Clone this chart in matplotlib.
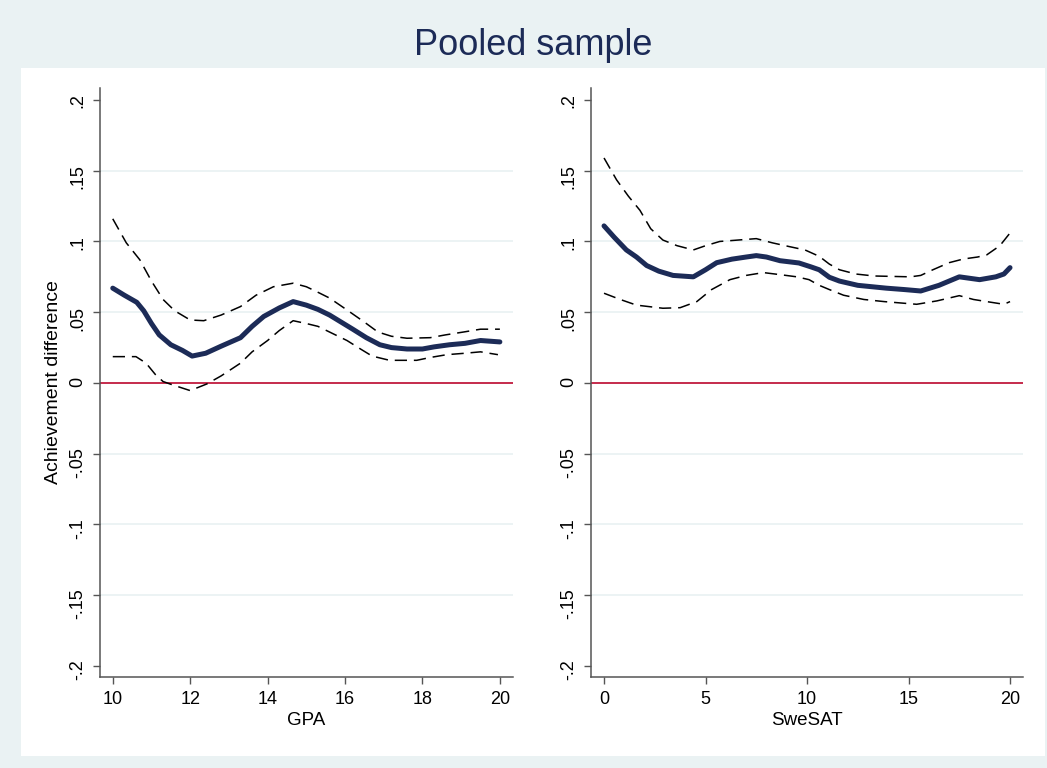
import matplotlib
matplotlib.use("Agg")
import matplotlib.pyplot as plt
from matplotlib.patches import Rectangle

plt.rcParams["font.family"] = ["Liberation Sans", "DejaVu Sans"]

# -----------------------------
# Data
# -----------------------------
gpa_x = [10.0, 10.3, 10.62, 10.8, 11.0, 11.2, 11.5, 11.8, 12.05, 12.4, 12.8, 13.3, 13.6,
         13.9, 14.3, 14.66, 15.0, 15.3, 15.6, 15.9, 16.2, 16.55, 16.9, 17.2, 17.6, 18.0,
         18.3, 18.7, 19.1, 19.5, 20.0]
gpa_est = [0.067, 0.062, 0.057, 0.051, 0.042, 0.034, 0.027, 0.023, 0.019, 0.021, 0.026,
           0.032, 0.040, 0.047, 0.053, 0.0575, 0.055, 0.052, 0.048, 0.043, 0.038, 0.032,
           0.027, 0.025, 0.024, 0.024, 0.0255, 0.027, 0.028, 0.030, 0.029]

gpa_hi_x = [10.0, 10.35, 10.7, 11.0, 11.3, 11.6, 12.0, 12.35, 12.8, 13.3, 13.7, 14.15, 14.66,
            15.0, 15.27, 15.6, 16.05, 16.5, 16.85, 17.2, 17.6, 18.2, 18.6, 19.06, 19.5, 20.0]
gpa_hi = [0.116, 0.099, 0.087, 0.072, 0.059, 0.051, 0.0445, 0.044, 0.048, 0.054, 0.062,
          0.068, 0.0705, 0.068, 0.0645, 0.060, 0.0516, 0.043, 0.036, 0.033, 0.0316, 0.032,
          0.034, 0.036, 0.038, 0.038]

gpa_lo_x = [10.0, 10.6, 10.86, 11.1, 11.3, 11.55, 12.0, 12.43, 12.8, 13.3, 13.6, 14.0, 14.3,
            14.66, 15.0, 15.3, 15.6, 16.05, 16.4, 16.7, 17.15, 17.85, 18.2, 18.63, 19.1, 19.5,
            19.95]
gpa_lo = [0.0186, 0.0186, 0.014, 0.006, 0.001, -0.0014, -0.0054, -0.0007, 0.005, 0.014,
          0.022, 0.030, 0.037, 0.044, 0.042, 0.040, 0.036, 0.030, 0.024, 0.019, 0.016, 0.016,
          0.018, 0.020, 0.021, 0.022, 0.020]

sat_x = [0.0, 0.5, 1.1, 1.6, 2.1, 2.7, 3.4, 4.4, 5.0, 5.55, 6.3, 7.0, 7.5, 8.0, 8.67, 9.6,
         10.2, 10.6, 11.1, 11.6, 12.5, 13.9, 14.8, 15.6, 16.5, 17.5, 18.5, 19.3, 19.7, 20.0]
sat_est = [0.111, 0.103, 0.094, 0.089, 0.083, 0.079, 0.076, 0.075, 0.080, 0.085, 0.0875,
           0.089, 0.090, 0.089, 0.0864, 0.0848, 0.082, 0.080, 0.0747, 0.072, 0.069, 0.067,
           0.066, 0.065, 0.069, 0.075, 0.073, 0.075, 0.077, 0.0815]

sat_hi_x = [0.0, 0.62, 1.2, 1.77, 2.3, 2.9, 3.6, 4.4, 5.0, 5.7, 6.6, 7.5, 8.3, 9.15, 9.9,
            10.6, 11.1, 11.6, 12.4, 13.3, 15.1, 15.6, 16.2, 17.0, 17.7, 18.4, 18.85, 19.5,
            20.0]
sat_hi = [0.159, 0.1435, 0.132, 0.122, 0.109, 0.101, 0.097, 0.094, 0.097, 0.100, 0.101,
          0.102, 0.099, 0.0963, 0.094, 0.0895, 0.084, 0.080, 0.077, 0.0756, 0.075, 0.076,
          0.080, 0.085, 0.0876, 0.089, 0.0905, 0.097, 0.106]

sat_lo_x = [0.0, 0.8, 1.6, 2.9, 3.75, 4.57, 5.3, 6.2, 7.0, 7.85, 8.7, 9.5, 10.1, 10.6, 11.1,
            11.8, 12.8, 13.8, 15.4, 16.4, 17.5, 18.2, 18.85, 19.7, 20.0]
sat_lo = [0.0634, 0.059, 0.055, 0.0528, 0.0532, 0.0575, 0.066, 0.073, 0.076, 0.078, 0.0765,
          0.075, 0.073, 0.069, 0.066, 0.062, 0.059, 0.0575, 0.0556, 0.058, 0.0617, 0.059,
          0.0575, 0.0556, 0.0575]

y_ticks = [-0.2, -0.15, -0.1, -0.05, 0, 0.05, 0.1, 0.15, 0.2]
y_tick_labels = ["-.2", "-.15", "-.1", "-.05", "0", ".05", ".1", ".15", ".2"]
gpa_ticks = [10, 12, 14, 16, 18, 20]
sat_ticks = [0, 5, 10, 15, 20]

# -----------------------------
# Styling
# -----------------------------
bg = "#EAF2F3"
navy = "#1C2B57"
red = "#C01A3E"
axis_grey = "#555555"

fig = plt.figure(figsize=(10.47, 7.68), dpi=100, facecolor=bg)
fig.patches.append(Rectangle((0.0198, 0.0156), 0.9783, 0.8958, transform=fig.transFigure,
                             facecolor="white", edgecolor="none", zorder=-5))

fig.text(0.509, 0.928, "Pooled sample", ha="center", va="baseline",
         fontsize=26, color=navy)

ax1 = fig.add_axes([0.0955, 0.1185, 0.3945, 0.767])
ax2 = fig.add_axes([0.5645, 0.1185, 0.4126, 0.767])

panels = [
    (ax1, gpa_x, gpa_est, gpa_hi_x, gpa_hi, gpa_lo_x, gpa_lo, gpa_ticks, (9.67, 20.34), "GPA"),
    (ax2, sat_x, sat_est, sat_hi_x, sat_hi, sat_lo_x, sat_lo, sat_ticks, (-0.64, 20.64), "SweSAT"),
]

for ax, x, est, hx, hi, lx, lo, xt, xl, xlabel in panels:
    ax.set_zorder(2)
    ax.set_facecolor("none")
    for yv in y_ticks:
        if yv != 0 and abs(yv) < 0.19:
            ax.axhline(yv, color=bg, lw=1.3, zorder=1)
    ax.axhline(0, color=red, lw=1.3, zorder=2)
    ax.plot(hx, hi, color="black", lw=1.1, dashes=(8, 4.5), zorder=3)
    ax.plot(lx, lo, color="black", lw=1.1, dashes=(8, 4.5), zorder=3)
    ax.plot(x, est, color=navy, lw=3.6, solid_capstyle="round", zorder=4)

    ax.set_xlim(*xl)
    ax.set_ylim(-0.2078, 0.2085)
    ax.set_xticks(xt)
    ax.set_yticks(y_ticks)
    ax.set_yticklabels(y_tick_labels)
    ax.tick_params(axis="y", labelrotation=90)
    ax.tick_params(direction="out", length=5, width=1, color=axis_grey,
                   labelsize=13, pad=5)
    for s in ["top", "right"]:
        ax.spines[s].set_visible(False)
    for s in ["left", "bottom"]:
        ax.spines[s].set_color(axis_grey)
        ax.spines[s].set_linewidth(1.1)
    ax.set_xlabel(xlabel, fontsize=13.5, labelpad=3)

ax1.set_ylabel("Achievement difference", fontsize=14, labelpad=5)

fig.savefig("out.png", dpi=100, facecolor=bg)
